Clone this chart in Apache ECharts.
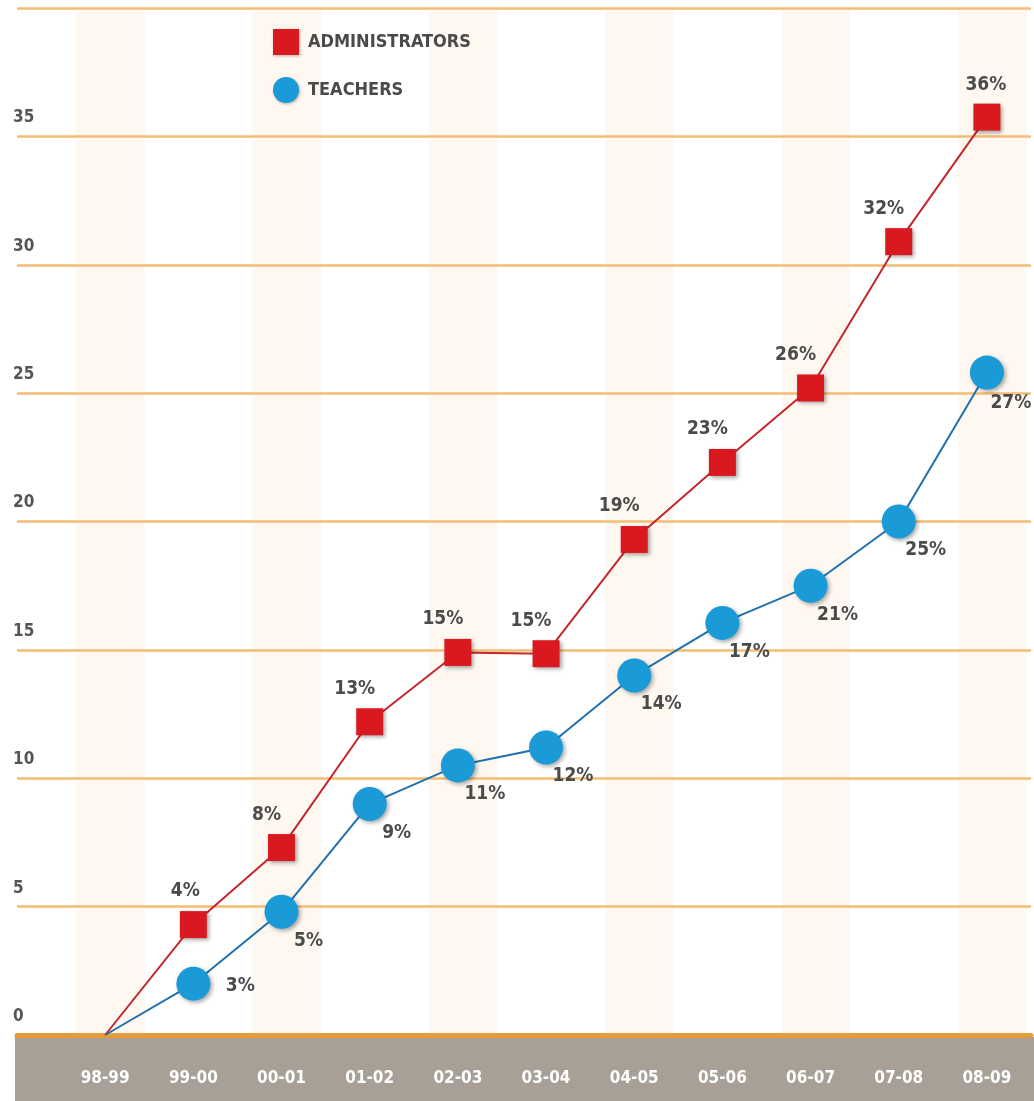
<!DOCTYPE html>
<html>
<head>
<meta charset="utf-8">
<script src="https://cdn.jsdelivr.net/npm/echarts@6/dist/echarts.min.js"></script>
<style>
  html, body { margin: 0; padding: 0; background: #ffffff; }
  #chart { width: 1034px; height: 1101px; }
</style>
</head>
<body>
<div id="chart"></div>
<script>
// ---- data ----
var categories = ['98-99', '99-00', '00-01', '01-02', '02-03', '03-04', '04-05', '05-06', '06-07', '07-08', '08-09'];
var adminValues = [0, 4.3, 7.3, 12.2, 14.9, 14.85, 19.3, 22.3, 25.2, 30.9, 35.75];
var adminLabels = ['', '4%', '8%', '13%', '15%', '15%', '19%', '23%', '26%', '32%', '36%'];
var teacherValues = [0, 2.0, 4.8, 9.0, 10.5, 11.2, 14.0, 16.05, 17.5, 20.0, 25.8];
var teacherLabels = ['', '3%', '5%', '9%', '11%', '12%', '14%', '17%', '21%', '25%', '27%'];
var yTicks = [0, 5, 10, 15, 20, 25, 30, 35];

var FONT = "'DejaVu Sans Condensed', 'Liberation Sans Narrow', sans-serif";
var labelStyle = { fontFamily: FONT, fontWeight: 'bold', fontSize: 19, color: '#4b4b4b' };

function adminData() {
  return adminValues.map(function (v, i) {
    var off = [-15, -33];
    if (i === 1) off = [-8, -34];
    if (i === categories.length - 1) off = [-1, -32];
    var item = { value: [i, v], label: Object.assign({ show: i > 0, formatter: adminLabels[i], position: 'inside', offset: off }, labelStyle) };
    if (i === 0) item.symbol = 'none';
    return item;
  });
}
function teacherData() {
  return teacherValues.map(function (v, i) {
    var off = [27, 29];
    if (i === 1) off = [47, 2];
    if (i === categories.length - 1) off = [24, 30];
    var item = { value: [i, v], label: Object.assign({ show: i > 0, formatter: teacherLabels[i], position: 'inside', offset: off }, labelStyle) };
    if (i === 0) item.symbol = 'none';
    return item;
  });
}

// faint vertical stripes on every other category
var stripes = [];
categories.forEach(function (c, i) {
  if (i % 2 === 0) stripes.push([{ xAxis: i - 0.33 }, { xAxis: i + 0.45 }]);
});

var chart = echarts.init(document.getElementById('chart'), null, { renderer: 'canvas' });
var option = {
  backgroundColor: '#ffffff',
  animation: false,
  grid: { left: 17, right: 0, top: 8, bottom: 66, containLabel: false },
  graphic: {
    elements: [{
      type: 'rect', z: -1, silent: true,
      shape: { x: 15, y: 1037, width: 1019, height: 64 },
      style: { fill: '#a89f96' }
    }]
  },
  legend: {
    orient: 'vertical', left: 268, top: 24, itemGap: 22,
    itemWidth: 26, itemHeight: 26,
    itemStyle: { shadowBlur: 3, shadowColor: 'rgba(0,0,0,0.3)', shadowOffsetX: 1, shadowOffsetY: 1 },
    textStyle: { fontFamily: FONT, fontWeight: 'bold', fontSize: 18, color: '#4a4a4a', padding: [0, 0, 0, 4] },
    data: [
      { name: 'ADMINISTRATORS', icon: 'rect' },
      { name: 'TEACHERS', icon: 'circle' }
    ]
  },
  xAxis: {
    type: 'value', min: -1, max: 10.5, interval: 1,
    axisLine: { show: true, lineStyle: { color: '#e59c38', width: 5 } },
    axisTick: { show: false },
    splitLine: { show: false },
    axisLabel: {
      margin: 35, color: '#ffffff', fontFamily: FONT, fontWeight: 'bold', fontSize: 17,
      showMinLabel: true, showMaxLabel: true,
      formatter: function (v) { return (Number.isInteger(v) && v >= 0 && v < categories.length) ? categories[v] : ''; }
    }
  },
  yAxis: {
    type: 'value', min: 0, max: 40, interval: 5,
    axisLine: { show: false }, axisTick: { show: false },
    splitLine: { show: true, lineStyle: { color: '#f2bd72', width: 2.5 } },
    axisLabel: {
      align: 'left', margin: 4, verticalAlign: 'bottom', padding: [0, 0, 10, 0],
      color: '#555555', fontFamily: FONT, fontWeight: 'bold', fontSize: 17,
      formatter: function (v) { return yTicks.indexOf(v) >= 0 ? String(v) : ''; }
    }
  },
  series: [
    {
      name: 'ADMINISTRATORS', type: 'line', symbol: 'rect', symbolSize: 27,
      z: 3,
      lineStyle: { color: '#c4262e', width: 2 },
      itemStyle: { color: '#d9191f', shadowBlur: 4, shadowColor: 'rgba(0,0,0,0.35)', shadowOffsetX: 2, shadowOffsetY: 2 },
      data: adminData(),
      markArea: {
        silent: true,
        itemStyle: { color: 'rgba(250, 200, 140, 0.12)' },
        data: stripes
      }
    },
    {
      name: 'TEACHERS', type: 'line', symbol: 'circle', symbolSize: 34,
      z: 4,
      lineStyle: { color: '#2070b0', width: 2 },
      itemStyle: { color: '#1a9ad6', shadowBlur: 4, shadowColor: 'rgba(0,0,0,0.35)', shadowOffsetX: 2, shadowOffsetY: 2 },
      data: teacherData()
    }
  ]
};
chart.setOption(option);
</script>
</body>
</html>
